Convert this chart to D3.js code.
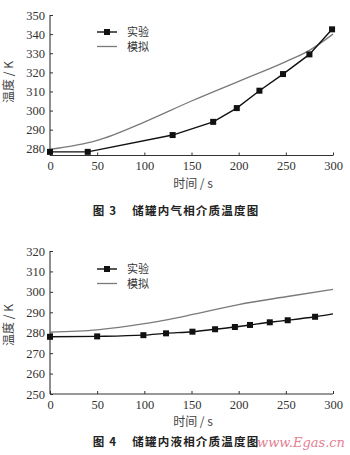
<!DOCTYPE html>
<html>
<head>
<meta charset="utf-8">
<script src="https://cdn.jsdelivr.net/npm/d3@7"></script>
<style>
  html, body { margin: 0; padding: 0; background: #fff; }
  svg { display: block; }
  .num { font-family: "Liberation Serif", "DejaVu Serif", serif; }
  .cjk { font-family: "Noto Sans CJK SC", sans-serif; }
</style>
</head>
<body>
<svg id="fig" width="350" height="455"></svg>
<script>
// Figure 3: gas-phase temperature in the tank
const gasExpTime  = [0, 40, 130, 173, 198, 222, 247, 275, 299];
const gasExpTemp  = [278.4, 278.4, 287.2, 294.1, 301.3, 310.4, 319.1, 329.4, 342.5];
const gasSimTime  = [0, 50, 100, 150, 200, 250, 275, 300];
const gasSimTemp  = [279.7, 284.4, 294.0, 305.0, 315.3, 325.6, 331.5, 340.0];
const gasYTicks   = [280, 290, 300, 310, 320, 330, 340, 350];

// Figure 4: liquid-phase temperature in the tank
const liqExpTime  = [0, 50, 99, 123, 151, 175, 196, 212, 233, 252, 281];
const liqExpTemp  = [278.0, 278.2, 278.8, 279.7, 280.5, 281.7, 282.8, 283.8, 285.1, 286.1, 287.8];
const liqExpEnd   = [300, 289.2];
const liqSimTime  = [0, 50, 100, 150, 200, 250, 300];
const liqSimTemp  = [280.3, 281.4, 284.4, 288.8, 293.8, 297.6, 301.2];
const liqYTicks   = [250, 260, 270, 280, 290, 300, 310, 320];

const xTicks = [0, 50, 100, 150, 200, 250, 300];
const legendNames = ["实验", "模拟"];

const svg = d3.select("#fig");

function panel(opt) {
  const g = svg.append("g");
  const x = d3.scaleLinear().domain([0, 300]).range([50, 333]);
  const y = d3.scaleLinear().domain(opt.yDomain).range([opt.bottom, opt.top]);

  // axes
  const yAxis = d3.axisLeft(y).tickValues(opt.yTicks).tickSize(-3).tickPadding(5).tickFormat(d3.format("d"));
  const xAxis = d3.axisBottom(x).tickValues(xTicks).tickSize(-3).tickPadding(6).tickFormat(d3.format("d"));
  const gy = g.append("g").attr("transform", "translate(50,0)").call(yAxis);
  const gx = g.append("g").attr("transform", `translate(0,${opt.bottom})`).call(xAxis);
  [gx, gy].forEach(a => {
    a.select(".domain").attr("stroke", "#333").attr("stroke-width", 1.1)
      .attr("d", a === gy ? `M0,${opt.bottom}V${opt.top}` : "M50,0H333");
    a.selectAll(".tick line").attr("stroke", "#333");
    a.selectAll(".tick text").attr("class", "num").attr("fill", "#333").style("font-size", "12.5px");
  });

  // simulation curve
  const simLine = d3.line().x((d, i) => x(opt.simT[i])).y(d => y(d)).curve(d3.curveMonotoneX);
  g.append("path").datum(opt.simV).attr("d", simLine)
    .attr("fill", "none").attr("stroke", "#7a7a7a").attr("stroke-width", 1.3);

  // experimental curve with square markers
  const expPts = opt.expT.map((t, i) => [t, opt.expV[i]]);
  const linePts = opt.expEnd ? expPts.concat([opt.expEnd]) : expPts;
  const expLine = d3.line().x(d => x(d[0])).y(d => y(d[1])).curve(opt.expCurve);
  g.append("path").datum(linePts).attr("d", expLine)
    .attr("fill", "none").attr("stroke", "#111").attr("stroke-width", 1.4);
  g.selectAll("rect.m").data(expPts).join("rect").attr("class", "m")
    .attr("x", d => x(d[0]) - 3).attr("y", d => y(d[1]) - 3)
    .attr("width", 6).attr("height", 6).attr("fill", "#111");

  // legend
  const lg = g.append("g").attr("transform", `translate(97,${opt.legendY})`);
  lg.append("line").attr("x1", 0).attr("x2", 20).attr("y1", 0).attr("y2", 0)
    .attr("stroke", "#111").attr("stroke-width", 1.4);
  lg.append("rect").attr("x", 7).attr("y", -3).attr("width", 6).attr("height", 6).attr("fill", "#111");
  lg.append("line").attr("x1", 0).attr("x2", 20).attr("y1", 14.5).attr("y2", 14.5)
    .attr("stroke", "#7a7a7a").attr("stroke-width", 1.3);
  legendNames.forEach((n, i) => {
    lg.append("text").attr("class", "cjk").attr("x", 30).attr("y", i * 14.5 + 4)
      .attr("fill", "#333").style("font-size", "11px").text(n);
  });

  // axis titles
  g.append("text").attr("class", "cjk")
    .attr("transform", `translate(13,${opt.yTitleY}) rotate(-90)`)
    .attr("text-anchor", "middle").attr("fill", "#444").style("font-size", "12px")
    .text("温度 / K");
  g.append("text").attr("class", "cjk").attr("x", 193).attr("y", opt.bottom + 32)
    .attr("text-anchor", "middle").attr("fill", "#444").style("font-size", "12px")
    .text("时间 / s");

  // caption
  g.append("text").attr("class", "cjk").attr("x", 176).attr("y", opt.captionY)
    .attr("text-anchor", "middle").attr("fill", "#222").style("font-size", "11.5px")
    .style("font-weight", "bold").style("letter-spacing", "1.2px").attr("xml:space", "preserve")
    .text(opt.caption);
}

panel({
  yDomain: [276.5, 350], top: 15, bottom: 155.5, yTicks: gasYTicks,
  expT: gasExpTime, expV: gasExpTemp, expCurve: d3.curveLinear,
  simT: gasSimTime, simV: gasSimTemp,
  legendY: 32, yTitleY: 82, captionY: 215,
  caption: "图 3    储罐内气相介质温度图"
});

panel({
  yDomain: [250, 320], top: 251, bottom: 394, yTicks: liqYTicks,
  expT: liqExpTime, expV: liqExpTemp, expEnd: liqExpEnd, expCurve: d3.curveMonotoneX,
  simT: liqSimTime, simV: liqSimTemp,
  legendY: 269, yTitleY: 325, captionY: 446,
  caption: "图 4    储罐内液相介质温度图"
});

// site mark in the lower right corner
svg.append("text").attr("x", 345).attr("y", 447).attr("text-anchor", "end")
  .style("font-family", "'DejaVu Serif', serif").style("font-style", "italic")
  .style("font-size", "13px").attr("fill", "#e06a80").attr("opacity", 0.85)
  .text("www.Egas.cn");
</script>
</body>
</html>
